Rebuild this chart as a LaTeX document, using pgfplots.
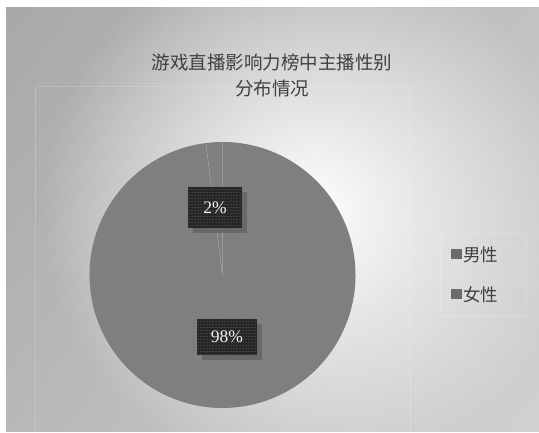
\documentclass[border=0pt]{standalone}
\usepackage{pgfplots}
\pgfplotsset{compat=1.18}
\usepackage{fontspec}
\setmainfont{Liberation Serif}
\newfontfamily\cjk{Noto Sans CJK SC}
\usetikzlibrary{patterns,fadings,shadings}
\tikzfading[name=glowfade, inner color=transparent!0, outer color=transparent!100]
\definecolor{piegray}{HTML}{7F7F7F}
\definecolor{leggray}{HTML}{6B6B6B}
\definecolor{txtgray}{HTML}{404040}
\definecolor{boxdark}{HTML}{262626}
\definecolor{sepgray}{HTML}{9E9E9E}
\begin{document}
\begin{tikzpicture}[x=1pt,y=1pt]
% page and chart background
\fill[white] (0,0) rectangle (539,432);
\shade[upper left=black!34,upper right=black!24,lower left=black!28,lower right=black!18]
  (6,0) rectangle (539,424);
\begin{scope}
\clip (6,0) rectangle (539,424);
\fill[white,path fading=glowfade] (310,220) circle (270);
\end{scope}
\draw[white,opacity=0.18,line width=0.6pt] (35,0) -- (35,346) -- (410,346) -- (410,0);
\draw[white,opacity=0.18,line width=0.6pt] (440,116) rectangle (526,199);
% title
\node[text=txtgray,font=\cjk\fontsize{18.5}{26}\selectfont,align=center] at (272,357)
  {游戏直播影响力榜中主播性别\\分布情况};
% pie
\pgfmathsetmacro\vA{2}
\pgfmathsetmacro\vB{98}
\begin{axis}[at={(222.5pt,157pt)},anchor=center,scale only axis,
  width=266pt,height=266pt,xmin=-1,xmax=1,ymin=-1,ymax=1,
  hide axis,clip=false]
\pgfmathsetmacro\aA{90}
\pgfmathsetmacro\aB{90+3.6*\vA}
\pgfmathsetmacro\aC{\aB+3.6*\vB}
\fill[piegray] (axis cs:0,0) -- (axis cs:{cos(\aA)},{sin(\aA)})
  arc[start angle=\aA,end angle=\aB,radius=133pt] -- cycle;
\fill[piegray] (axis cs:0,0) -- (axis cs:{cos(\aB)},{sin(\aB)})
  arc[start angle=\aB,end angle=\aC,radius=133pt] -- cycle;
\draw[sepgray,line width=0.5pt] (axis cs:{cos(\aA)},{sin(\aA)}) -- (axis cs:0,0) -- (axis cs:{cos(\aB)},{sin(\aB)});
\end{axis}
% data labels
\fill[black!65,opacity=0.6] (193,199) rectangle (247,240);
\fill[boxdark] (188,204) rectangle (242,245);
\fill[pattern=dots,pattern color=black!55] (188,204) rectangle (242,245);
\node[text=black!5,font=\fontsize{17.5}{20}\selectfont] at (215,224.5) {2\%};
\fill[black!65,opacity=0.6] (202,72) rectangle (262,108);
\fill[boxdark] (197,77) rectangle (257,113);
\fill[pattern=dots,pattern color=black!55] (197,77) rectangle (257,113);
\node[text=black!5,font=\fontsize{17.5}{20}\selectfont] at (227,95) {98\%};
% legend
\fill[leggray] (451,173) rectangle (462,183);
\node[anchor=west,inner sep=0pt,text=txtgray,font=\cjk\fontsize{17.5}{20}\selectfont] at (463,177.5) {男性};
\fill[leggray] (451,132.5) rectangle (462,142.5);
\node[anchor=west,inner sep=0pt,text=txtgray,font=\cjk\fontsize{17.5}{20}\selectfont] at (463,137.5) {女性};
\end{tikzpicture}
\end{document}
